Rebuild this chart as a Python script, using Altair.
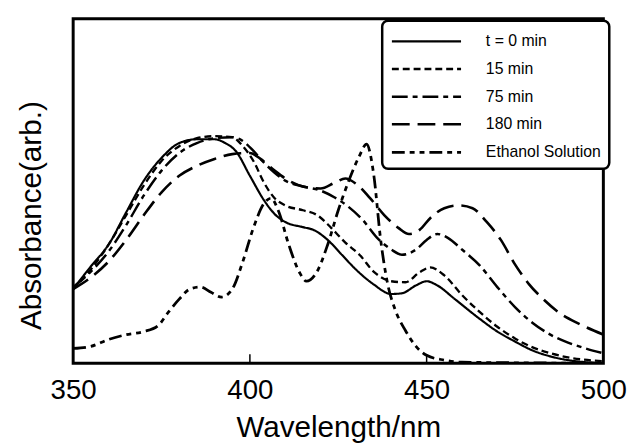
import altair as alt
import pandas as pd

names = ["t = 0 min", "15 min", "75 min", "180 min", "Ethanol Solution"]
dashes = [[1, 0], [7, 4], [16, 5, 5, 5], [18, 8], [13, 5, 5, 5, 5, 5]]
widths = [2.2, 2.8, 3.0, 3.0, 3.0]
x_ticks = [350, 400, 450, 500]
inner_ticks = [400, 450]

wl_t0 = [350, 355, 360, 365, 370, 375, 380, 385, 390, 393, 396, 400, 404, 407, 410, 415, 418, 422, 426, 430,
         435, 440, 443, 447, 450, 453, 458, 465, 470, 475, 480, 485, 490, 495, 500]
abs_t0 = [0.215, 0.281, 0.344, 0.438, 0.530, 0.596, 0.639, 0.650, 0.650, 0.639, 0.616, 0.544, 0.473, 0.433, 0.410,
          0.395, 0.387, 0.358, 0.315, 0.272, 0.229, 0.201, 0.203, 0.226, 0.238, 0.226, 0.186, 0.129, 0.092, 0.063,
          0.037, 0.020, 0.009, 0.003, 0.0]

wl_15 = [350, 355, 360, 365, 370, 375, 380, 385, 390, 395, 398, 401, 404, 407, 410, 415, 419, 423, 427, 431,
         435, 440, 444, 448, 451, 455, 460, 465, 470, 475, 480, 485, 490, 500]
abs_15 = [0.215, 0.272, 0.344, 0.430, 0.516, 0.587, 0.630, 0.653, 0.659, 0.656, 0.630, 0.587, 0.524, 0.479, 0.458,
          0.444, 0.430, 0.393, 0.350, 0.315, 0.266, 0.238, 0.235, 0.264, 0.278, 0.255, 0.198, 0.149, 0.106, 0.072,
          0.046, 0.029, 0.017, 0.006]

wl_75 = [350, 355, 360, 365, 370, 375, 380, 385, 390, 395, 398, 401, 404, 407, 410, 415, 420, 424, 428, 432,
         436, 440, 443, 447, 450, 453, 456, 460, 465, 470, 475, 480, 485, 490, 495, 500]
abs_75 = [0.221, 0.266, 0.324, 0.401, 0.487, 0.559, 0.610, 0.639, 0.653, 0.656, 0.645, 0.616, 0.582, 0.553, 0.530,
          0.513, 0.501, 0.481, 0.453, 0.415, 0.364, 0.330, 0.315, 0.330, 0.358, 0.375, 0.364, 0.330, 0.284, 0.221,
          0.163, 0.117, 0.083, 0.060, 0.043, 0.029]

wl_180 = [350, 355, 360, 365, 370, 375, 380, 385, 390, 395, 400, 403, 407, 411, 415, 420, 424, 427, 430, 434,
          438, 442, 445, 448, 451, 455, 459, 463, 467, 471, 475, 479, 483, 488, 493, 500]
abs_180 = [0.215, 0.249, 0.295, 0.358, 0.430, 0.496, 0.544, 0.573, 0.593, 0.607, 0.610, 0.593, 0.559, 0.530, 0.513,
           0.507, 0.524, 0.536, 0.521, 0.479, 0.430, 0.393, 0.375, 0.387, 0.421, 0.450, 0.458, 0.450, 0.410, 0.358,
           0.287, 0.229, 0.186, 0.143, 0.115, 0.083]

wl_eth = [350, 355, 360, 365, 370, 374, 377, 380, 383, 386, 389, 392, 395, 398, 401, 404, 406, 408, 411, 414,
          416, 419, 422, 425, 428, 431, 433, 435, 437, 439, 441, 444, 447, 450, 455, 460, 500]
abs_eth = [0.043, 0.049, 0.069, 0.083, 0.092, 0.109, 0.149, 0.186, 0.215, 0.221, 0.206, 0.192, 0.215, 0.295, 0.393,
           0.464, 0.479, 0.444, 0.344, 0.264, 0.238, 0.266, 0.344, 0.444, 0.530, 0.602, 0.636, 0.550, 0.358, 0.229,
           0.158, 0.095, 0.049, 0.023, 0.009, 0.003, 0.0]

series = [(names[0], wl_t0, abs_t0), (names[1], wl_15, abs_15), (names[2], wl_75, abs_75),
          (names[3], wl_180, abs_180), (names[4], wl_eth, abs_eth)]
rows = []
for n, xs, ys in series:
    rows += [{"series": n, "wl": x, "abs": y} for x, y in zip(xs, ys)]
df = pd.DataFrame(rows)
tick_df = pd.DataFrame({"wl": inner_ticks})

FONT = "Liberation Sans"

x_scale = alt.Scale(domain=[350, 500], nice=False, zero=False)

lines = alt.Chart(df).mark_line(interpolate="monotone", clip=True, color="black").encode(
    x=alt.X("wl:Q", scale=x_scale,
            axis=alt.Axis(values=x_ticks, title="Wavelength/nm", grid=False, domain=False, ticks=False,
                          labelFontSize=28, labelFont=FONT, labelColor="black", labelPadding=14,
                          labelFlush=False, format="d",
                          titleFontSize=30, titleFont=FONT, titleFontWeight="normal", titleColor="black",
                          titlePadding=8)),
    y=alt.Y("abs:Q", scale=alt.Scale(domain=[0, 1], nice=False),
            axis=alt.Axis(labels=False, ticks=False, domain=False, grid=False, title="Absorbance(arb.)",
                          titleFontSize=30, titleFont=FONT, titleFontWeight="normal", titleColor="black",
                          titlePadding=27, titleY=199)),
    strokeDash=alt.StrokeDash("series:N", sort=names,
                              scale=alt.Scale(domain=names, range=dashes),
                              legend=alt.Legend(title=None, orient="none", legendX=313, legendY=2,
                                                symbolType="M-1,0H5", symbolSize=545, symbolStrokeWidth=2,
                                                symbolStrokeColor="black", symbolFillColor="transparent",
                                                labelFontSize=16, labelFont=FONT,
                                                labelColor="black", labelOffset=70, rowPadding=7,
                                                strokeColor="black", cornerRadius=6, padding=8,
                                                fillColor="white")),
    strokeWidth=alt.StrokeWidth("series:N", scale=alt.Scale(domain=names, range=widths), legend=None),
    order=alt.Order("wl:Q"),
)

ticks = alt.Chart(tick_df).mark_rule(color="black", strokeWidth=1.5).encode(
    x=alt.X("wl:Q", scale=x_scale),
    y=alt.value(349),
    y2=alt.value(340),
)

chart = alt.layer(lines, ticks).properties(
    width=537, height=349,
    autosize=alt.AutoSizeParams(type="none"),
    padding={"left": 66, "top": 8, "right": 28, "bottom": 80},
).configure_view(stroke="black", strokeWidth=3).configure_legend(strokeWidth=2.5)

chart.save("out.html", embed_options={"renderer": "svg", "actions": False})
